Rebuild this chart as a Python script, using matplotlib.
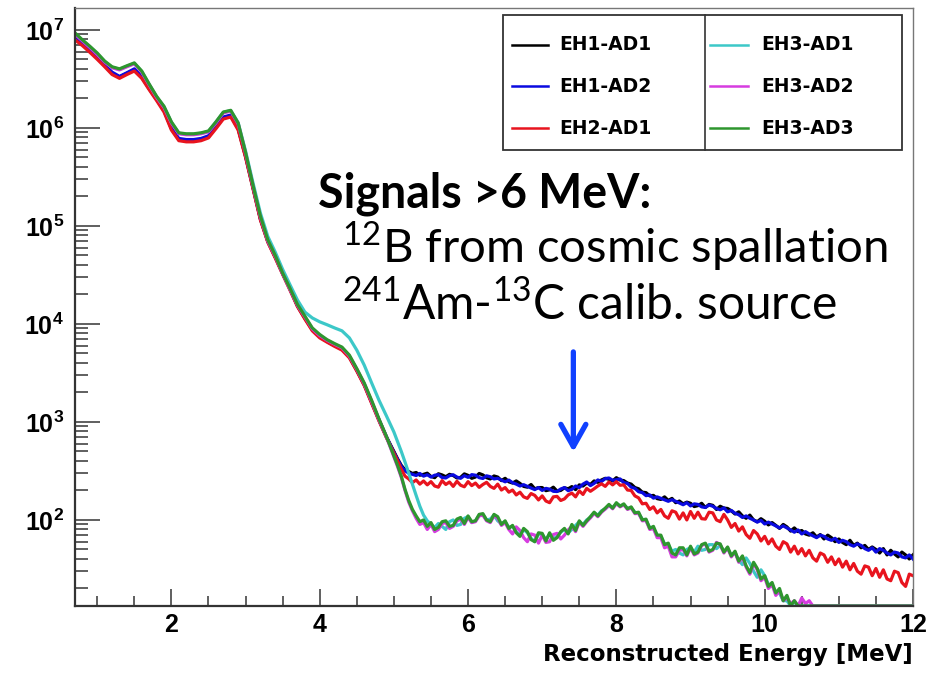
import numpy as np
import matplotlib
matplotlib.use('Agg')
import matplotlib.pyplot as plt
from matplotlib.ticker import MultipleLocator, FixedLocator, LogLocator, FuncFormatter, NullFormatter
from matplotlib.patches import Rectangle
from matplotlib.lines import Line2D

plt.rcParams['font.family'] = 'Liberation Sans'
plt.rcParams['font.weight'] = 'bold'
plt.rcParams['xtick.labelsize'] = 18
plt.rcParams['ytick.labelsize'] = 18
plt.rcParams['mathtext.fontset'] = 'custom'
plt.rcParams['mathtext.rm'] = 'Lato:weight=normal'
plt.rcParams['mathtext.bf'] = 'Liberation Sans:bold'

##################################################################
# energy spectra per detector (counts per bin)

# bin centres [MeV]: 0.1 MeV below 5 MeV, 0.05 MeV above
e_low = np.round(np.arange(7, 50) * 0.1, 2)
e_tail = np.round(np.arange(100, 241) * 0.05, 2)
energy = np.concatenate([e_low, e_tail])

labels = ['EH1-AD1', 'EH1-AD2', 'EH2-AD1', 'EH3-AD1', 'EH3-AD2', 'EH3-AD3']
colors = ['#000000', '#0a0ae0', '#e8141e', '#3cc8c8', '#d63ce0', '#2e962e']

eh1_ad1_low = [8.1e6, 7.1e6, 6.1e6, 5.15e6, 4.3e6, 3.6e6, 3.3e6, 3.6e6, 3.9e6, 3.3e6,
               2.5e6, 1.95e6, 1.5e6, 9.8e5, 7.6e5, 7.4e5, 7.4e5, 7.6e5, 8.1e5, 1.01e6,
               1.27e6, 1.33e6, 9.8e5, 5.1e5, 2.45e5, 1.17e5, 6.9e4, 4.8e4, 3.25e4, 2.25e4,
               1.52e4, 1.14e4, 8.7e3, 7.4e3, 6.6e3, 6.0e3, 5.5e3, 4.6e3, 3.35e3, 2.4e3,
               1.58e3, 1.04e3, 700]
eh1_ad1_tail = [500, 420, 360, 325, 312, 298, 305, 286, 292, 300,
                278, 270, 296, 288, 276, 292, 284, 268, 272, 295,
                285, 266, 274, 298, 288, 270, 262, 281, 274, 252,
                266, 245, 238, 250, 236, 220, 216, 230, 208, 214,
                214, 199, 203, 216, 197, 200, 213, 208, 219, 204,
                228, 222, 238, 230, 250, 242, 256, 266, 260, 250,
                270, 255, 252, 238, 232, 214, 208, 192, 190, 176,
                178, 165, 162, 172, 158, 166, 150, 156, 146, 152,
                148, 137, 140, 148, 134, 144, 141, 128, 138, 132,
                131, 124, 115, 121, 110, 104, 112, 100, 96, 103,
                97, 89, 94, 88, 82, 90, 85, 77, 83, 76,
                78, 72, 70, 74, 67, 71, 64, 70, 66, 60,
                64, 59, 56, 62, 55, 58, 52, 55, 50, 53,
                50, 46, 51, 44, 49, 45, 42, 47, 44, 40,
                44]

eh1_ad2_low = [8.3e6, 7.2e6, 6.2e6, 5.25e6, 4.4e6, 3.7e6, 3.35e6, 3.65e6, 4.0e6, 3.35e6,
               2.55e6, 2.0e6, 1.52e6, 1.0e6, 7.8e5, 7.6e5, 7.6e5, 7.8e5, 8.3e5, 1.03e6,
               1.29e6, 1.35e6, 1.0e6, 5.2e5, 2.5e5, 1.19e5, 7.0e4, 4.85e4, 3.3e4, 2.28e4,
               1.54e4, 1.15e4, 8.8e3, 7.5e3, 6.7e3, 6.05e3, 5.55e3, 4.65e3, 3.4e3, 2.42e3,
               1.6e3, 1.05e3, 705]
eh1_ad2_tail = [490, 415, 352, 318, 300, 292, 284, 298, 280, 289,
                274, 286, 290, 271, 268, 283, 289, 274, 266, 283,
                272, 290, 286, 270, 265, 282, 276, 262, 266, 255,
                245, 255, 240, 232, 222, 229, 220, 212, 204, 214,
                200, 210, 206, 196, 195, 207, 214, 199, 205, 222,
                214, 232, 244, 224, 236, 256, 247, 264, 268, 254,
                257, 262, 240, 236, 216, 210, 194, 190, 177, 180,
                167, 172, 166, 160, 155, 161, 155, 149, 143, 150,
                139, 146, 144, 136, 134, 142, 138, 131, 127, 133,
                121, 125, 117, 113, 106, 110, 104, 100, 95, 99,
                91, 95, 91, 87, 83, 87, 83, 79, 75, 79,
                72, 76, 72, 69, 66, 70, 68, 64, 62, 65,
                59, 62, 60, 56, 54, 57, 55, 51, 49, 52,
                47, 51, 49, 46, 44, 47, 46, 42, 41, 44,
                40]

eh2_ad1_low = [7.9e6, 6.9e6, 5.9e6, 5.0e6, 4.2e6, 3.5e6, 3.2e6, 3.5e6, 3.8e6, 3.2e6,
               2.45e6, 1.9e6, 1.45e6, 9.5e5, 7.4e5, 7.2e5, 7.2e5, 7.4e5, 7.9e5, 9.8e5,
               1.23e6, 1.29e6, 9.5e5, 5.0e5, 2.4e5, 1.15e5, 6.8e4, 4.7e4, 3.2e4, 2.2e4,
               1.5e4, 1.12e4, 8.5e3, 7.2e3, 6.5e3, 5.9e3, 5.4e3, 4.5e3, 3.3e3, 2.35e3,
               1.55e3, 1.02e3, 690]
eh2_ad1_tail = [480, 400, 330, 280, 262, 240, 256, 232, 250, 228,
                246, 222, 216, 252, 230, 244, 220, 248, 226, 218,
                246, 224, 238, 215, 230, 242, 220, 210, 232, 202,
                214, 192, 202, 180, 192, 172, 166, 186, 178, 160,
                176, 156, 150, 172, 174, 158, 164, 180, 188, 172,
                198, 182, 210, 196, 208, 222, 234, 220, 244, 228,
                246, 226, 228, 202, 200, 176, 168, 146, 148, 128,
                136, 118, 128, 110, 104, 124, 120, 102, 118, 100,
                122, 104, 120, 103, 102, 120, 118, 100, 96, 114,
                100, 84, 92, 77, 85, 71, 65, 78, 72, 61,
                68, 57, 64, 54, 50, 60, 57, 47, 54, 45,
                51, 43, 49, 41, 38, 46, 44, 37, 42, 35,
                40, 33, 38, 31, 36, 30, 28, 34, 33, 27,
                32, 26, 31, 25, 24, 30, 29, 23, 21, 28,
                27]

eh3_ad1_low = [9.1e6, 7.8e6, 6.7e6, 5.7e6, 4.75e6, 4.15e6, 3.95e6, 4.25e6, 4.55e6, 3.75e6,
               2.78e6, 2.08e6, 1.64e6, 1.14e6, 8.8e5, 8.6e5, 8.6e5, 8.8e5, 9.2e5, 1.14e6,
               1.44e6, 1.50e6, 1.13e6, 5.8e5, 2.75e5, 1.35e5, 7.8e4, 5.4e4, 3.6e4, 2.5e4,
               1.75e4, 1.32e4, 1.15e4, 1.05e4, 9.8e3, 9.1e3, 8.5e3, 7.2e3, 5.4e3, 3.8e3,
               2.5e3, 1.66e3, 1.15e3]
eh3_ad1_tail = [790, 630, 500, 390, 300, 230, 178, 138, 112, 98,
                90, 84, 92, 86, 80, 96, 100, 88, 90, 104,
                108, 94, 98, 112, 114, 100, 102, 112, 98, 92,
                96, 84, 86, 76, 70, 80, 74, 65, 60, 72,
                71, 63, 72, 64, 68, 75, 80, 74, 80, 88,
                96, 90, 100, 106, 118, 112, 124, 130, 140, 134,
                146, 140, 142, 132, 132, 120, 116, 102, 98, 84,
                82, 70, 68, 57, 56, 48, 50, 46, 44, 50,
                52, 47, 54, 49, 50, 56, 56, 51, 55, 48,
                51, 44, 46, 39, 35, 41, 36, 30, 26, 31,
                27, 22, 22, 18, 18, 15, 15]

eh3_ad2_low = [9.0e6, 7.7e6, 6.6e6, 5.6e6, 4.7e6, 4.1e6, 3.9e6, 4.2e6, 4.5e6, 3.7e6,
               2.75e6, 2.05e6, 1.62e6, 1.12e6, 8.7e5, 8.5e5, 8.5e5, 8.7e5, 9.1e5, 1.12e6,
               1.42e6, 1.48e6, 1.10e6, 5.5e5, 2.55e5, 1.23e5, 7.0e4, 4.9e4, 3.25e4, 2.25e4,
               1.55e4, 1.18e4, 8.9e3, 7.6e3, 6.8e3, 6.2e3, 5.7e3, 4.7e3, 3.45e3, 2.45e3,
               1.62e3, 1.05e3, 700]
eh3_ad2_tail = [440, 350, 272, 200, 152, 124, 104, 90, 94, 80,
                90, 76, 80, 92, 94, 82, 86, 98, 102, 90,
                106, 94, 96, 110, 112, 98, 94, 110, 104, 88,
                94, 80, 72, 85, 78, 66, 60, 72, 70, 58,
                70, 59, 60, 71, 73, 64, 70, 79, 86, 76,
                95, 86, 96, 105, 117, 108, 120, 129, 141, 130,
                147, 136, 143, 128, 133, 116, 117, 98, 99, 80,
                82, 66, 66, 52, 54, 42, 42, 49, 50, 43,
                52, 44, 46, 55, 57, 47, 49, 59, 56, 46,
                52, 42, 47, 37, 42, 33, 28, 36, 31, 24,
                26, 20, 22, 17, 19, 15, 16, 14, 15, 13,
                16, 14, 15]

eh3_ad3_low = [9.3e6, 7.9e6, 6.8e6, 5.8e6, 4.8e6, 4.2e6, 4.0e6, 4.3e6, 4.6e6, 3.8e6,
               2.8e6, 2.1e6, 1.66e6, 1.15e6, 8.9e5, 8.7e5, 8.7e5, 8.9e5, 9.3e5, 1.15e6,
               1.45e6, 1.51e6, 1.12e6, 5.6e5, 2.6e5, 1.26e5, 7.2e4, 5.0e4, 3.3e4, 2.3e4,
               1.58e4, 1.2e4, 9.1e3, 7.8e3, 6.9e3, 6.3e3, 5.8e3, 4.8e3, 3.5e3, 2.5e3,
               1.66e3, 1.07e3, 710]
eh3_ad3_tail = [450, 360, 280, 205, 158, 128, 110, 96, 100, 86,
                94, 80, 84, 96, 98, 86, 88, 102, 106, 92,
                110, 96, 98, 114, 116, 100, 96, 114, 108, 90,
                98, 82, 88, 74, 68, 82, 76, 63, 60, 74,
                73, 61, 74, 62, 66, 76, 82, 72, 90, 78,
                98, 88, 98, 108, 120, 110, 122, 132, 144, 132,
                150, 138, 146, 130, 136, 118, 120, 100, 102, 82,
                86, 70, 70, 56, 58, 46, 44, 52, 52, 44,
                54, 45, 47, 56, 58, 48, 50, 58, 57, 47,
                53, 43, 48, 38, 43, 34, 29, 37, 32, 25,
                27, 21, 23, 18, 20, 15, 17, 13, 15]

spectra = [(eh1_ad1_low, eh1_ad1_tail), (eh1_ad2_low, eh1_ad2_tail),
           (eh2_ad1_low, eh2_ad1_tail), (eh3_ad1_low, eh3_ad1_tail),
           (eh3_ad2_low, eh3_ad2_tail), (eh3_ad3_low, eh3_ad3_tail)]

y_min, y_max = 13.25, 1.67e7

##################################################################

def full_spectrum(low, tail):
    # empty bins at the end of the tail
    tail = list(tail) + [0] * (len(e_tail) - len(tail))
    return np.concatenate([np.array(low, float), np.array(tail, float)])


def fig_xy(px, py):
    # pixel position (from top-left) -> figure fraction
    return px / 934., 1. - py / 673.


fig = plt.figure(figsize=(9.34, 6.73), dpi=100)
ax = fig.add_axes([75 / 934., 67 / 673., 838 / 934., 598 / 673.])

for (low, tail), col, lab in zip(spectra, colors, labels):
    counts = full_spectrum(low, tail)
    ax.plot(energy, np.clip(counts, y_min, None), color=col, lw=2.3, label=lab)

ax.set_yscale('log')
ax.set_xlim(0.7, 12)
ax.set_ylim(y_min, y_max)

ax.xaxis.set_major_locator(MultipleLocator(2))
ax.xaxis.set_minor_locator(MultipleLocator(0.5))
ax.yaxis.set_major_locator(FixedLocator([1e2, 1e3, 1e4, 1e5, 1e6, 1e7]))
ax.yaxis.set_minor_locator(LogLocator(base=10, subs=np.arange(2, 10)))
ax.yaxis.set_minor_formatter(NullFormatter())
ax.yaxis.set_major_formatter(FuncFormatter(lambda v, p: r'10$^{\mathbf{%d}}$' % round(np.log10(v))))
ax.xaxis.set_major_formatter(FuncFormatter(lambda v, p: '%d' % v))

ax.tick_params(axis='both', which='both', direction='in', color='#444444', width=1.2,
               top=False, right=False)
ax.tick_params(axis='y', which='major', length=18, pad=8)
ax.tick_params(axis='y', which='minor', length=9.5)
ax.tick_params(axis='x', which='major', length=12, pad=5)
ax.tick_params(axis='x', which='minor', length=7)

for side in ['left', 'bottom']:
    ax.spines[side].set_color('#333333')
    ax.spines[side].set_linewidth(1.6)
for side in ['top', 'right']:
    ax.spines[side].set_color('#777777')
    ax.spines[side].set_linewidth(1.0)

ax.set_xlabel('Reconstructed Energy [MeV]', loc='right', fontsize=16.5,
              fontweight='bold', family='DejaVu Sans', labelpad=4)

# legend box, ROOT style with two columns
x0, y0 = fig_xy(503, 150)
x1, y1 = fig_xy(902, 15)
fig.add_artist(Rectangle((x0, y0), x1 - x0, y1 - y0, transform=fig.transFigure,
                         facecolor='white', edgecolor='#333333', lw=1.3, zorder=5))
xd, _ = fig_xy(705, 0)
fig.add_artist(Line2D([xd, xd], [y0, y1], transform=fig.transFigure,
                      color='#333333', lw=1.2, zorder=6))
rows = [45, 86, 128]
cols = [(512, 548, 559), (710, 748, 761)]
for i, (lab, col) in enumerate(zip(labels, colors)):
    hx0, hx1, tx = cols[i // 3]
    _, yy = fig_xy(0, rows[i % 3])
    fig.add_artist(Line2D([hx0 / 934., hx1 / 934.], [yy, yy], transform=fig.transFigure,
                          color=col, lw=1.8, zorder=6))
    fig.text(tx / 934., yy, lab, fontsize=13.5, fontweight='bold', family='DejaVu Sans',
             va='center', ha='left', zorder=7)

# annotation of the high-energy signals
tx, ty = fig_xy(318, 208)
fig.text(tx, ty, 'Signals >6 MeV:', fontsize=33.5, fontweight='bold', family='Lato',
         va='baseline', ha='left')
tx, ty = fig_xy(342, 263)
fig.text(tx, ty, r'$^{12}$B from cosmic spallation', fontsize=34, family='Lato',
         fontweight='normal', va='baseline', ha='left')
tx, ty = fig_xy(342, 320)
fig.text(tx, ty, r'$^{241}$Am-$^{13}$C calib. source', fontsize=34.5, family='Lato',
         fontweight='normal', va='baseline', ha='left')

ax.annotate('', xy=(7.42, 494), xytext=(7.42, 5180),
            arrowprops=dict(arrowstyle='->,head_length=0.8,head_width=0.45',
                            color='#1040ff', lw=3.8, mutation_scale=20,
                            shrinkA=0, shrinkB=0))

plt.savefig('out.png', dpi=100, facecolor='white')
